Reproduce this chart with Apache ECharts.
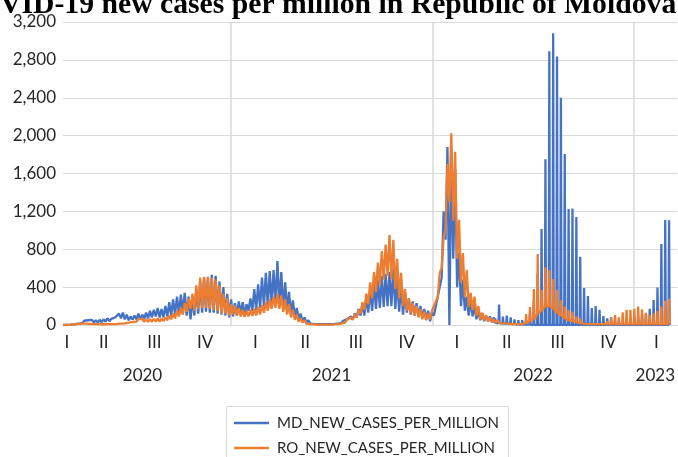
<!DOCTYPE html>
<html>
<head>
<meta charset="utf-8">
<script src="https://cdn.jsdelivr.net/npm/echarts@6/dist/echarts.min.js"></script>
<style>
html,body{margin:0;padding:0;background:#fff;}
#chart{width:678px;height:457px;}
</style>
</head>
<body>
<div id="chart"></div>
<script>
// x values are days since 2020-01-01; one entry per week, first week starts on day 62 (2020-03-03)
const START_DAY = 62;
// Moldova weekly highs / lows (new cases per million)
const mdHigh = [2,5,10,20,35,45,50,55,50,55,60,70,65,80,120,130,110,90,100,120,
  110,130,150,160,180,170,200,240,270,300,320,340,300,280,380,450,500,510,530,520,
  460,400,330,270,230,250,240,220,280,380,430,500,550,570,580,675,560,450,350,260,
  180,120,80,50,35,25,20,15,15,18,22,30,45,60,90,120,170,220,300,380,
  430,480,520,540,560,600,480,420,350,280,250,230,200,170,150,130,200,400,1200,1880,
  1820,1640,760,480,300,260,200,150,120,100,90,80,70,215,90,100,80,60,50,50,
  50,125,245,550,1015,1750,2890,3080,2835,2400,1805,1225,1230,1140,720,390,305,180,200,160,
  95,70,80,60,50,50,60,70,90,100,110,120,170,265,395,855,1110,1105];
const mdLow = [0,0,3,8,15,20,25,30,25,25,30,35,40,45,60,70,60,50,55,60,
  60,65,70,80,90,80,80,90,100,110,120,130,100,60,100,120,130,140,130,130,
  120,110,100,80,90,100,120,110,150,150,160,180,200,200,220,230,200,160,160,120,
  80,60,40,25,15,12,10,8,8,8,10,15,20,30,40,60,80,100,100,130,
  150,170,180,190,200,200,170,140,110,130,110,100,90,80,60,40,100,200,500,900,
  0,700,400,200,150,100,90,60,50,40,40,30,20,20,15,15,10,10,5,5,
  5,5,0,0,0,0,0,0,0,0,0,0,0,0,0,0,0,0,0,0,
  0,0,0,0,0,0,0,0,0,0,0,0,0,0,0,0,0,0];
// Romania weekly highs / lows
const roHigh = [1,3,8,15,20,20,22,20,18,15,12,12,14,16,20,25,30,40,50,60,
  65,60,60,65,70,70,80,100,120,150,180,230,280,330,420,500,510,505,500,480,
  420,330,280,220,200,180,160,150,160,170,190,210,240,270,300,330,310,270,220,160,
  110,70,50,30,20,12,8,6,6,8,12,20,35,55,80,110,160,240,330,450,
  560,660,780,850,950,900,700,550,380,280,230,200,170,140,120,150,250,550,930,1700,
  2025,1830,1110,760,580,340,300,200,130,100,80,60,50,40,35,30,25,20,20,20,
  115,190,380,750,370,610,580,485,370,260,195,160,140,90,70,35,30,25,20,20,
  25,40,70,105,80,135,160,160,170,195,165,130,105,125,150,195,255,275];
const roLow = [0,1,3,8,12,14,14,12,10,9,8,8,9,10,12,15,18,25,30,35,
  40,35,35,35,35,35,40,50,60,70,90,110,140,170,150,170,180,180,170,160,
  150,120,120,100,110,100,90,85,90,95,100,110,130,150,170,180,170,140,110,80,
  55,35,25,15,10,7,5,4,4,5,6,10,15,25,40,55,80,120,160,220,
  280,350,420,480,520,480,380,280,200,150,120,100,80,60,50,60,130,300,600,1000,
  1300,1100,700,450,300,190,160,100,60,50,40,30,25,20,18,15,12,10,10,10,
  20,40,60,120,150,200,200,170,130,100,70,50,40,30,20,15,10,10,10,10,
  10,10,10,10,10,10,10,10,10,10,10,10,10,10,10,10,10,10];
// week index from which the series is reported as one weekly figure
const mdWeeklyFrom = 112;
const roWeeklyFrom = 119;

// axis labels
const quarterDays = [69,136,227.5,319.5,410.5,501,592.5,684.5,775.5,866,958,1050,1137];
const quarterNames = ['I','II','III','IV','I','II','III','IV','I','II','III','IV','I'];
const yearDays = [206,548.5,913.5,1135];
const yearNames = ['2020','2021','2022','2023'];
const yearStarts = [366,731,1096];
const seriesNames = ['MD_NEW_CASES_PER_MILLION','RO_NEW_CASES_PER_MILLION'];

function build(high, low, weeklyFrom){
  const pts = [];
  for (let w = 0; w < high.length; w++){
    const d = START_DAY + 7*w;
    if (w < weeklyFrom){
      pts.push([d, low[w]]);
      pts.push([d+3.5, high[w]]);
    } else {
      pts.push([d-2, low[w]]);
      pts.push([d-1, high[w]]);
      pts.push([d, low[w]]);
    }
  }
  return pts;
}

const FONT = 'Lato';
const TXT = '#262626';
function legendFor(name, top){
  return {
    data:[name], orient:'vertical', left:234, top:top, padding:0,
    icon:'rect', itemWidth:35, itemHeight:2.5, itemGap:0,
    textStyle:{fontFamily:FONT, fontSize:15, lineHeight:16, color:TXT, padding:[0,0,0,3]}
  };
}
const chart = echarts.init(document.getElementById('chart'), null, {renderer:'canvas'});
chart.setOption({
  animation:false,
  title:{
    text:'COVID-19 new cases per million in Republic of Moldova',
    left:-44.5, top:-10, padding:0,
    textStyle:{fontFamily:'Liberation Serif', fontWeight:'bold', fontSize:29.7, color:'#000'}
  },
  graphic:[{
    type:'rect', left:226, top:406, silent:true, z:-1,
    shape:{width:282, height:70},
    style:{fill:'#fff', stroke:'#d9d9d9', lineWidth:1}
  }],
  grid:{left:63, top:22, width:616, height:303, containLabel:false},
  legend:[legendFor(seriesNames[0], 415), legendFor(seriesNames[1], 440)],
  xAxis:[{
    type:'value', min:62, max:1175,
    axisLine:{show:true, lineStyle:{color:'#d9d9d9', width:1}},
    axisTick:{show:false},
    splitLine:{show:false},
    axisLabel:{
      customValues:quarterDays, margin:9,
      fontFamily:FONT, fontSize:17, color:TXT,
      formatter:function(v){ const i = quarterDays.indexOf(v); return i>=0 ? quarterNames[i] : ''; }
    }
  },{
    type:'value', min:62, max:1175, position:'bottom', offset:33,
    axisLine:{show:false}, axisTick:{show:false}, splitLine:{show:false},
    axisLabel:{
      customValues:yearDays, margin:9,
      fontFamily:FONT, fontSize:17, color:TXT,
      formatter:function(v){ const i = yearDays.indexOf(v); return i>=0 ? yearNames[i] : ''; }
    }
  }],
  yAxis:{
    type:'value', min:0, max:3200, interval:400,
    axisLine:{show:false}, axisTick:{show:false},
    splitLine:{lineStyle:{color:'#d9d9d9', width:1}},
    axisLabel:{margin:7, fontFamily:FONT, fontSize:17, color:TXT,
      formatter:function(v){ return v.toLocaleString('en-US'); }}
  },
  series:[{
    name:seriesNames[0], type:'line', xAxisIndex:0,
    data:build(mdHigh, mdLow, mdWeeklyFrom),
    showSymbol:false, symbol:'none',
    lineStyle:{color:'#4472C4', width:2.3}, itemStyle:{color:'#4472C4'},
    z:2,
    markLine:{
      silent:true, symbol:['none','none'], z:1,
      label:{show:false},
      lineStyle:{color:'#d9d9d9', width:1.5, type:'solid'},
      data:yearStarts.map(function(d){ return {xAxis:d}; })
    }
  },{
    name:seriesNames[1], type:'line', xAxisIndex:0,
    data:build(roHigh, roLow, roWeeklyFrom),
    showSymbol:false, symbol:'none',
    lineStyle:{color:'#ED7D31', width:2.3}, itemStyle:{color:'#ED7D31'},
    z:3
  }]
});
</script>
</body>
</html>
